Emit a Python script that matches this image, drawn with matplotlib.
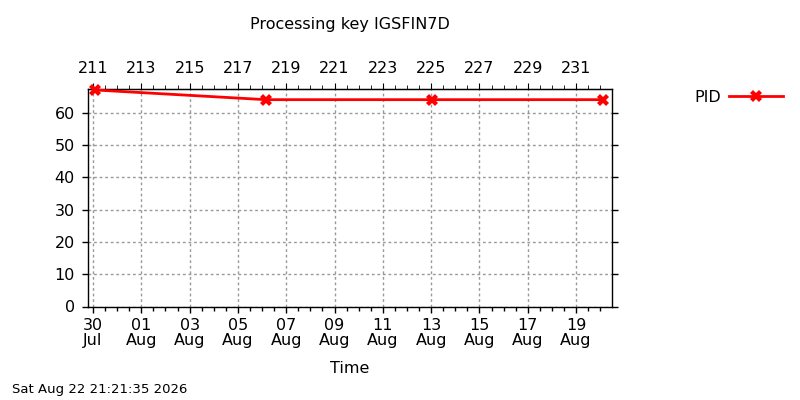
import matplotlib
matplotlib.use("Agg")
import matplotlib.pyplot as plt
import matplotlib.dates as mdates
from matplotlib.ticker import MultipleLocator
import datetime as dt

# data
times = ["2026-07-30 02:00", "2026-08-06 03:36", "2026-08-13 01:12", "2026-08-20 02:40"]
pid_values = [67, 64, 64, 64]
series_label = "PID"
title = "Processing key IGSFIN7D"
xlabel = "Time"
footer = "Sat Aug 22 21:21:35 2026"
xlim_start = "2026-07-29 19:00"
xlim_end = "2026-08-20 11:45"
ylim = (0, 67.3)

t = [dt.datetime.strptime(s, "%Y-%m-%d %H:%M") for s in times]
xs = mdates.date2num(t)

plt.rcParams['font.family'] = ['DejaVu Sans']
fig = plt.figure(figsize=(8, 4), dpi=100)
ax = fig.add_axes([88/800, 1-306.5/400, (612-88)/800, (306.5-89)/400])

ax.plot(xs, pid_values, color='red', lw=2, marker='X', ms=8.5, mew=0,
        label=series_label, clip_on=False, zorder=5)

ax.set_xlim(mdates.date2num(dt.datetime.strptime(xlim_start, "%Y-%m-%d %H:%M")),
            mdates.date2num(dt.datetime.strptime(xlim_end, "%Y-%m-%d %H:%M")))
ax.set_ylim(*ylim)

ax.xaxis.set_major_locator(mdates.DayLocator(bymonthday=[30, 1, 3, 5, 7, 9, 11, 13, 15, 17, 19]))
ax.xaxis.set_major_formatter(mdates.DateFormatter("%d\n%b"))
ax.xaxis.set_minor_locator(mdates.HourLocator(byhour=[0, 12]))
ax.yaxis.set_major_locator(MultipleLocator(10))

ax.tick_params(axis='both', which='major', direction='out', length=4.5, width=1,
               labelsize=11.5, right=True, top=False)
ax.tick_params(axis='x', which='minor', direction='out', length=3, width=1)
ax.tick_params(axis='x', which='major', pad=4)
ax.tick_params(axis='y', which='major', pad=5)

ax.grid(True, which='major', color='#999999', linestyle=(0, (2, 2)), lw=1)

jan1 = mdates.date2num(dt.datetime(2026, 1, 1))
sec = ax.secondary_xaxis('top', functions=(lambda x: x - jan1 + 1, lambda d: d + jan1 - 1))
sec.xaxis.set_major_locator(MultipleLocator(2, offset=1))
sec.xaxis.set_minor_locator(MultipleLocator(0.5))
sec.tick_params(axis='x', which='major', direction='out', length=4.5, labelsize=11.5, pad=5)
sec.tick_params(axis='x', which='minor', direction='out', length=3)

for s in ax.spines.values():
    s.set_linewidth(1)

ax.set_xlabel(xlabel, fontsize=11.5, labelpad=9)
fig.text(350/800, 1-24/400, title, ha='center', va='center', fontsize=11.5)
fig.text(12/800, 1-390/400, footer, ha='left', va='center', fontsize=9.5)

for lbl in ax.get_xticklabels():
    lbl.set_linespacing(1.0)

fig.legend(loc='center left', bbox_to_anchor=(686/800, 1-97/400), frameon=False,
           markerfirst=False, fontsize=11.5, handlelength=3.4, borderpad=0, handletextpad=0.5)

fig.savefig("out.png", dpi=100)
